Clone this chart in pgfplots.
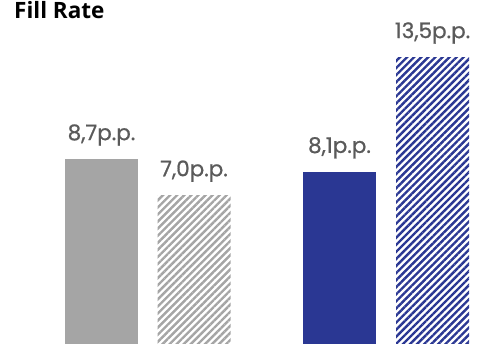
\documentclass[border=0pt]{standalone}
\usepackage{fontspec}
\usepackage{pgfplots}
\pgfplotsset{compat=1.18}
\usetikzlibrary{patterns.meta}
\setmainfont{Open Sans}
\newfontfamily\lblfont{Poppins}[FakeBold=0.8]
\definecolor{barGray}{HTML}{A5A5A5}
\definecolor{barBlue}{HTML}{2A3793}
\definecolor{lblGray}{HTML}{5A5A5A}
\begin{document}
\begin{tikzpicture}
\begin{axis}[
  scale only axis,
  width=485pt, height=344pt,
  xmin=0, xmax=485,
  ymin=0, ymax=16.19,
  hide axis,
  clip=false,
  bar width=73,
  /pgf/number format/assume math mode=true,
  nodes near coords={\pgfmathprintnumber[fixed,fixed zerofill,precision=1,use comma,assume math mode=true]{\pgfplotspointmeta}p.p.},
  nodes near coords style={anchor=base, yshift=19pt, inner sep=0pt, font=\lblfont\fontsize{21.5}{24}\selectfont, text=lblGray},
  title={Fill Rate},
  title style={at={(rel axis cs:0,1)}, anchor=base west, inner sep=0pt, xshift=14pt, yshift=-25pt, font=\bfseries\fontsize{22.5}{26}\selectfont},
]
% current period, grey
\addplot[ybar, bar shift=0pt, draw=none, fill=barGray] coordinates {(101.5,8.7)};
% change, grey hatched
\addplot[ybar, bar shift=0pt, draw=none, fill=white,
  pattern={Lines[angle=45,distance=5pt,line width=2.4pt]}, pattern color=barGray] coordinates {(194,7.0)};
% current period, blue
\addplot[ybar, bar shift=0pt, draw=none, fill=barBlue] coordinates {(339.5,8.1)};
% change, blue hatched
\addplot[ybar, bar shift=0pt, draw=none, fill=white,
  pattern={Lines[angle=45,distance=5pt,line width=2.4pt]}, pattern color=barBlue] coordinates {(432.5,13.5)};
\end{axis}
\pgfresetboundingbox
\path (0,0) rectangle (485pt,344pt);
\end{tikzpicture}
\end{document}
